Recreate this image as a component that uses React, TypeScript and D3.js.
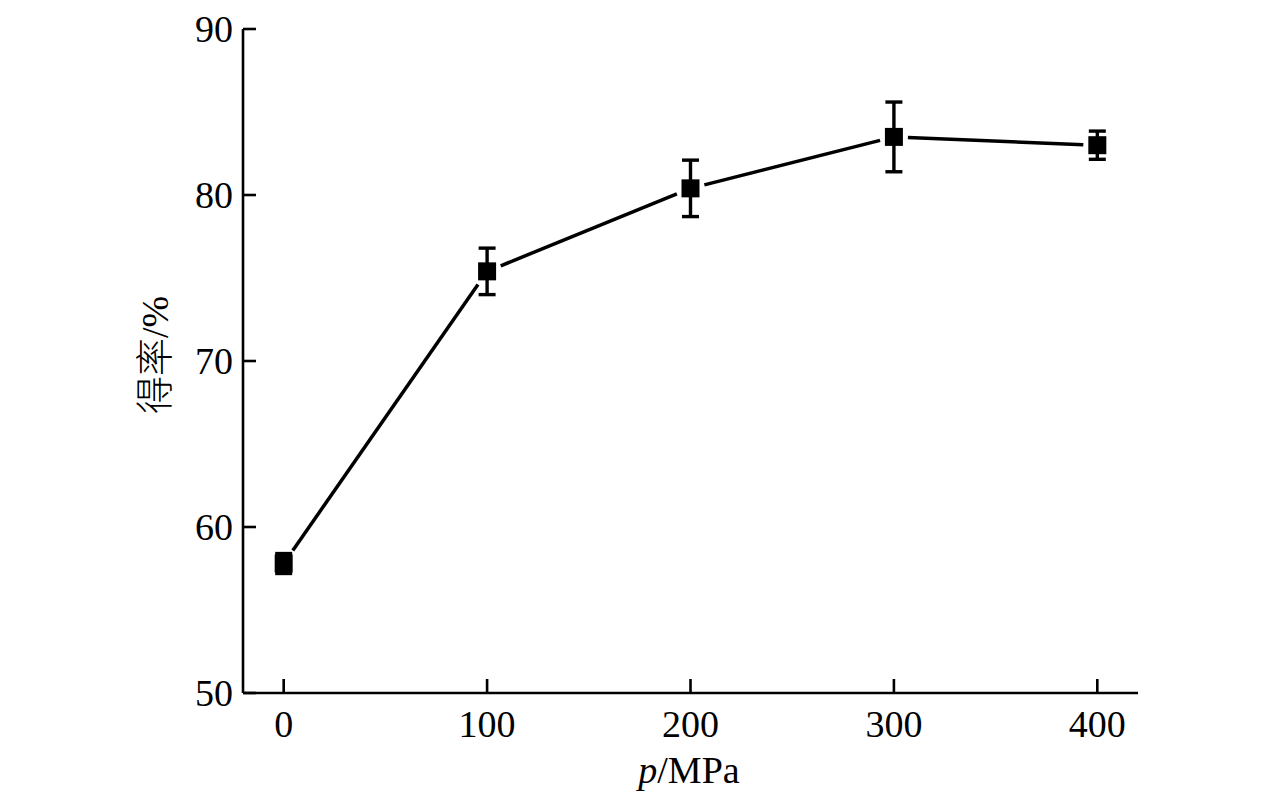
import React from "react";
import * as d3 from "d3";

const pressures = [0, 100, 200, 300, 400];
const yields = [57.8, 75.4, 80.4, 83.5, 83.0];
const errors = [0.6, 1.4, 1.7, 2.1, 0.85];
const xTicks = [0, 100, 200, 300, 400];
const yTicks = [50, 60, 70, 80, 90];

const W = 1276;
const H = 802;

export default function App() {
  const x = d3.scaleLinear().domain([-20, 420]).range([243, 1138]);
  const y = d3.scaleLinear().domain([50, 90]).range([693, 29]);
  const half = 9;
  const gap = 5;

  const pts = pressures.map((p, i) => ({ px: x(p), py: y(yields[i]) }));
  const segs = pts.slice(1).map((b, i) => {
    const a = pts[i];
    const dx = b.px - a.px;
    const dy = b.py - a.py;
    const len = Math.hypot(dx, dy);
    const ux = dx / len;
    const uy = dy / len;
    const e = half / Math.max(Math.abs(ux), Math.abs(uy)) + gap;
    return {
      x1: a.px + ux * e,
      y1: a.py + uy * e,
      x2: b.px - ux * e,
      y2: b.py - uy * e,
    };
  });

  const serif = "'Liberation Serif', 'Times New Roman', serif";

  return (
    <div style={{ position: "fixed", left: 0, top: 0 }}>
      <svg width={W} height={H} style={{ display: "block", background: "#fff" }}>
        <rect x={0} y={0} width={W} height={H} fill="#fff" />
        {/* axes */}
        <line x1={243} y1={y(90)} x2={243} y2={y(50)} stroke="#000" strokeWidth={2.6} />
        <line x1={243} y1={693} x2={x(420)} y2={693} stroke="#000" strokeWidth={2.6} />
        {yTicks.map((t) => (
          <g key={"y" + t}>
            <line x1={243} x2={256} y1={y(t)} y2={y(t)} stroke="#000" strokeWidth={2.6} />
            <text
              x={233}
              y={y(t)}
              textAnchor="end"
              dominantBaseline="central"
              fontFamily={serif}
              fontSize={38}
              fill="#000"
            >
              {t}
            </text>
          </g>
        ))}
        {xTicks.map((t) => (
          <g key={"x" + t}>
            <line x1={x(t)} x2={x(t)} y1={693} y2={679} stroke="#000" strokeWidth={2.6} />
            <text
              x={x(t)}
              y={737}
              textAnchor="middle"
              fontFamily={serif}
              fontSize={38}
              fill="#000"
            >
              {t}
            </text>
          </g>
        ))}
        {/* axis titles */}
        <text
          x={689}
          y={783}
          textAnchor="middle"
          fontFamily={serif}
          fontSize={38}
          fill="#000"
        >
          <tspan fontStyle="italic">p</tspan>/MPa
        </text>
        <text
          transform={`translate(168, 355) rotate(-90)`}
          textAnchor="middle"
          fontFamily={`${serif}, 'Noto Sans CJK SC'`}
          fontSize={38}
          fill="#000"
        >
          <tspan fontFamily="'Noto Sans CJK SC'" fontWeight={300}>得率</tspan>/%
        </text>
        {/* line segments */}
        {segs.map((s, i) => (
          <line key={"s" + i} x1={s.x1} y1={s.y1} x2={s.x2} y2={s.y2} stroke="#000" strokeWidth={3.5} />
        ))}
        {/* error bars */}
        {pressures.map((p, i) => {
          const cx = x(p);
          const top = y(yields[i] + errors[i]);
          const bot = y(yields[i] - errors[i]);
          return (
            <g key={"e" + i} stroke="#000" strokeWidth={3.4}>
              <line x1={cx} x2={cx} y1={top} y2={bot} />
              <line x1={cx - 8.5} x2={cx + 8.5} y1={top} y2={top} />
              <line x1={cx - 8.5} x2={cx + 8.5} y1={bot} y2={bot} />
            </g>
          );
        })}
        {/* markers */}
        {pts.map((pt, i) => (
          <rect key={"m" + i} x={pt.px - half} y={pt.py - half} width={half * 2} height={half * 2} fill="#000" />
        ))}
      </svg>
    </div>
  );
}
